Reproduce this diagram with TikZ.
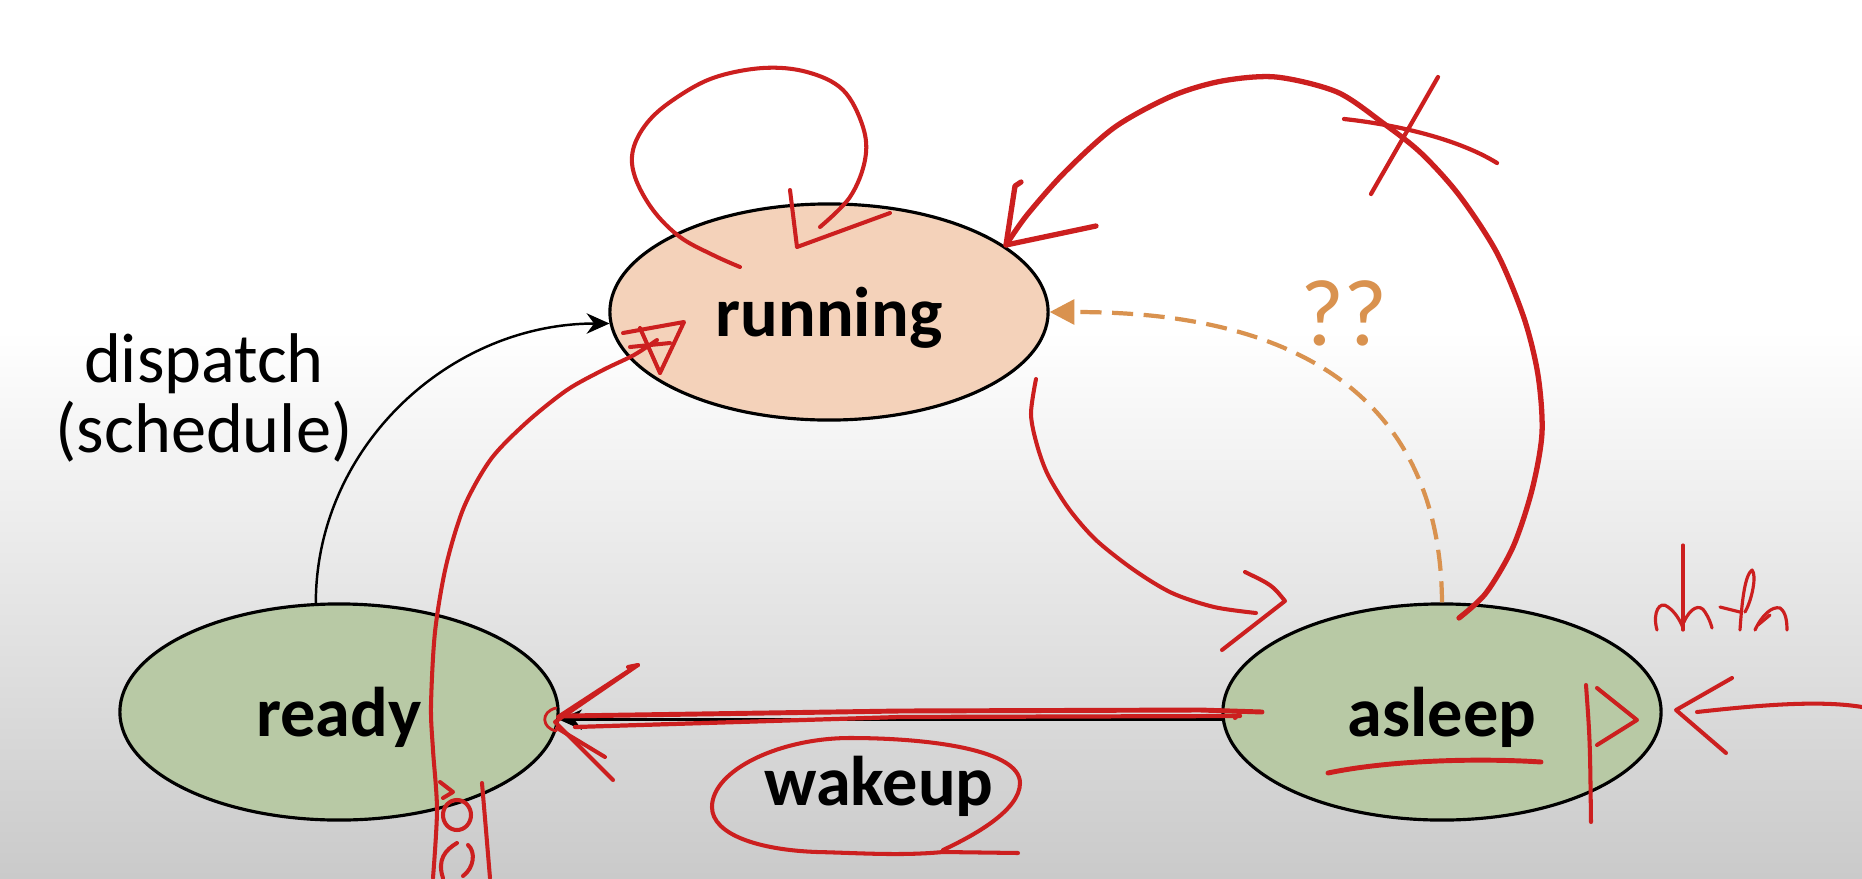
\documentclass[tikz,border=0pt]{standalone}
\usepackage{fontspec}
\setmainfont{Carlito}
\usetikzlibrary{shapes.geometric, arrows.meta}
\definecolor{runfill}{HTML}{F4D2BA}
\definecolor{greenfill}{HTML}{B8C9A5}
\definecolor{qorange}{HTML}{D9924F}
\definecolor{pen}{HTML}{CC1F1F}
\definecolor{bggray}{HTML}{CACACA}
\begin{document}
\begin{tikzpicture}[x=0.01cm, y=-0.01cm,
  statebox/.style={ellipse, draw=black, line width=0.9pt, minimum width=4.38cm, minimum height=2.16cm, inner sep=0pt, font=\fontsize{20}{24}\selectfont\bfseries, text height=0.6cm, text depth=0.12cm},
  conn/.style={draw=black, line width=0.7pt, -{Stealth[length=6.5pt, width=5.8pt]}},
  ink/.style={draw=pen, line width=1.15pt, line cap=round, line join=round},
  thickink/.style={ink, line width=1.5pt},
  lbl/.style={font=\fontsize{20}{20}\selectfont, align=center}
]
\useasboundingbox (0,0) rectangle (1862,878);
\fill[white] (0,0) rectangle (1862,331);
\shade[top color=white, bottom color=bggray] (0,330) rectangle (1862,878);

% states
\node[statebox, fill=runfill] (run) at (829,312) {running};
\node[statebox, fill=greenfill] (ready) at (339,712) {ready};
\node[statebox, fill=greenfill] (sleep) at (1442,712) {asleep};

% labels
\node[lbl] (disp) at (204,398) {dispatch\\(schedule)};
\node[font=\fontsize{20}{24}\selectfont\bfseries, anchor=base] (wake) at (879,805) {wakeup};
\node[font=\fontsize{27}{30}\selectfont, text=qorange, anchor=base] (qq) at (1344,345) {??};

% black connectors
\draw[conn] (ready.102) .. controls +(0,-155) and +(-161,0) .. (run.183);
\draw[conn] (sleep.182) -- (ready.358);
% orange dashed
\draw[qorange, line width=1.2pt, dash pattern=on 6pt off 3pt, -{Triangle[length=7pt,width=7pt]}] (sleep.north) .. controls +(-2,-275) and +(132,0) .. (run.east);

% ---- red pen annotations ----
% self loop on running
\draw[ink] plot[smooth, tension=0.6] coordinates {(740,267) (713,255) (680,237) (653,210) (635,177) (633,150) (647,123) (673,100) (713,78) (763,68) (807,72) (843,90) (863,127) (865,160) (850,197) (820,227)};
\draw[ink] (790,190) -- (797,247) -- (890,213);

% big arc asleep -> running, crossed out
\draw[thickink] plot[smooth] coordinates {(1459,618) (1486,593) (1513,547) (1532,490) (1542,433) (1538,375) (1524,318) (1497,253) (1459,195) (1421,153) (1383,123) (1337,92) (1276,77) (1222,81) (1172,96) (1115,127) (1065,172) (1027,215) (1006,245)};
\draw[thickink] (1021,182) -- (1015,186) -- (1006,245) -- (1096,226);
\draw[ink, line width=1.2pt] (1344,119) .. controls (1400,125) and (1460,140) .. (1497,163);
\draw[ink, line width=1.2pt] (1438,77) -- (1371,194);

% running -> asleep
\draw[ink] plot[smooth] coordinates {(1036,379) (1031,414) (1037,445) (1048,475) (1069,509) (1096,540) (1134,570) (1172,593) (1214,607) (1256,613)};
\draw[ink] (1245,572) .. controls (1272,585) .. (1285,601) -- (1222,650);

% wakeup red strokes
\draw[ink, line width=1.4pt] (1262,712) -- (1200,710) -- (900,711) -- (565,716);
\draw[ink, line width=1.2pt] (1240,716) -- (900,717) -- (575,727);
\draw[ink] (1235,718) -- (1241,712);
\draw[ink] (638,665) -- (555,722) -- (613,780);
\draw[ink] (630,670) -- (558,717);
\draw[ink] (557,728) -- (605,757);
\draw[ink] (638,665) -- (628,667);
\draw[ink, line width=0.8pt] (556,708) .. controls (540,712) and (542,728) .. (556,731);

% circle around wakeup
\draw[ink] (1018,853) -- (943,852) .. controls (900,856) and (860,853) .. (817,852) .. controls (760,850) and (712,835) .. (712,807) .. controls (712,770) and (780,738) .. (850,738) .. controls (930,738) and (1020,750) .. (1020,783) .. controls (1020,810) and (975,835) .. (943,850);

% ready -> running red arc
\draw[ink] plot[smooth] coordinates {(433,878) (437,810) (433,750) (431,706) (435,632) (446,566) (464,507) (491,459) (527,422) (567,390) (603,370) (634,355) (657,340)};
\draw[ink] (623,333) -- (684,322) -- (660,373);
\draw[ink] (640,328) -- (660,373);
\draw[ink] (630,347) -- (670,343);

% scribbles below ready
\draw[ink] (482,783) -- (486,830) -- (490,878);
\draw[ink] (440,782) -- (453,792) -- (443,798);
\draw[ink] (457,815) ellipse [x radius=0.14cm, y radius=0.15cm];
\draw[ink] (457,843) .. controls (445,850) and (437,860) .. (443,878);
\draw[ink] (468,845) .. controls (476,852) and (474,868) .. (463,876);

% underline asleep
\draw[ink, line width=1.4pt] (1328,773) .. controls (1390,760) and (1480,758) .. (1541,762);
% flag mark at asleep right
\draw[ink] (1586,685) .. controls (1590,740) .. (1591,822);
\draw[ink] (1597,688) -- (1637,720) -- (1597,745);
% incoming arrow from the right
\draw[ink] (1862,707) .. controls (1820,700) and (1760,705) .. (1697,712);
\draw[ink] (1732,678) -- (1676,710) -- (1726,753);

% handwritten "data"
\draw[ink, line width=0.9pt] (1683,545) -- (1683,630);
\draw[ink, line width=0.9pt] (1657,630) .. controls (1652,612) and (1660,600) .. (1668,607) .. controls (1675,612) and (1680,620) .. (1683,628);
\draw[ink, line width=0.9pt] (1684,622) .. controls (1690,608) and (1700,603) .. (1705,612) .. controls (1709,618) and (1711,624) .. (1712,628);
\draw[ink, line width=0.9pt] (1720,607) -- (1740,612);
\draw[ink, line width=0.9pt] (1740,630) .. controls (1742,600) and (1745,575) .. (1752,570) .. controls (1757,575) and (1752,600) .. (1745,612);
\draw[ink, line width=0.9pt] (1755,630) .. controls (1762,615) and (1772,606) .. (1780,608) .. controls (1786,612) and (1787,622) .. (1787,630);
\draw[ink, line width=0.9pt] (1758,625) -- (1770,615);
\end{tikzpicture}
\end{document}
